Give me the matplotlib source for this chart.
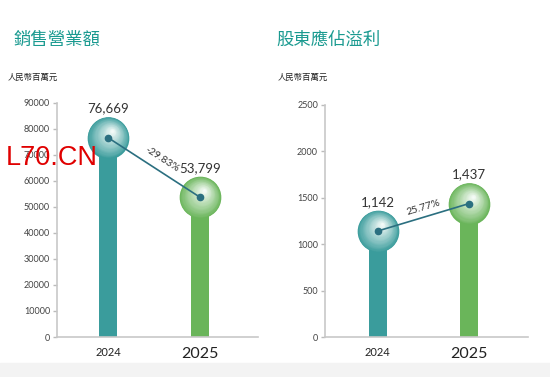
import numpy as np
import matplotlib.pyplot as plt
import matplotlib.transforms as mtransforms
from matplotlib.colors import to_rgb

plt.rcParams['font.family'] = ['Lato', 'Noto Sans CJK TC', 'DejaVu Sans']

# Data
years = ['2024', '2025']
sales = [76669, 53799]
profit = [1142, 1437]
sales_change = '-29.83%'
profit_change = '25.77%'
titles = ['銷售營業額', '股東應佔溢利']
unit = '人民幣百萬元'

teal = '#3a9c9c'
green = '#6ab55a'
line_col = '#2b6f80'


def ball(ax, x, y, color, radius=14.5, n=40):
    # fake a shaded sphere with stacked circles moving toward the highlight
    base = np.array(to_rgb(color))
    hl = np.array([0.97, 0.99, 0.98])
    offx, offy = 3.0, 5.0
    for k in range(n):
        t = k / n
        c = base * (1 - t ** 0.9) + hl * t ** 0.9
        tr = mtransforms.offset_copy(ax.transData, fig=ax.figure,
                                     x=offx * t, y=offy * t, units='points')
        r = radius * (1 - t) + 0.5
        ax.scatter([x], [y], s=(2 * r) ** 2, color=c, transform=tr,
                   zorder=4, linewidths=0, clip_on=False)


def panel(ax, values, ymax, step, change, xlim):
    x = np.arange(len(values))
    ax.bar(x, values, width=0.2, color=[teal, green], zorder=2)
    for xi, v, c in zip(x, values, [teal, green]):
        ball(ax, xi, v, c)
        ax.annotate(f'{v:,}', (xi, v), xytext=(0, 21), textcoords='offset points',
                    ha='center', va='center', fontsize=9.5, color='#333333')
    ax.plot(x, values, color=line_col, lw=1.2, zorder=6, marker='o', ms=4.5,
            clip_on=False)
    ax.set_xlim(*xlim)
    ax.set_ylim(0, ymax)
    ax.set_yticks(np.arange(0, ymax + 1, step))
    ax.set_xticks(x)
    ax.set_xticklabels(years)
    labs = ax.get_xticklabels()
    labs[0].set_fontsize(8)
    labs[1].set_fontsize(11.5)
    ax.tick_params(axis='x', length=0, pad=7, colors='#222222')
    ax.tick_params(axis='y', length=3, width=1, colors='#bbbbbb', labelsize=6.5,
                   labelcolor='#444444', pad=2)
    for s in ['top', 'right']:
        ax.spines[s].set_visible(False)
    for s in ['left', 'bottom']:
        ax.spines[s].set_color('#c8c8c8')
        ax.spines[s].set_linewidth(1.2)
    ax.patch.set_alpha(0)

    # percentage label along the line
    fig.canvas.draw()
    p0 = ax.transData.transform((x[0], values[0]))
    p1 = ax.transData.transform((x[1], values[1]))
    ang = np.degrees(np.arctan2(p1[1] - p0[1], p1[0] - p0[0]))
    mid = ((x[0] + x[1]) / 2, (values[0] + values[1]) / 2)
    nx, ny = -np.sin(np.radians(ang)), np.cos(np.radians(ang))
    ax.annotate(change, mid, xytext=(nx * 7 + 2, ny * 7), textcoords='offset points',
                ha='center', va='center', rotation=ang, fontsize=7.5,
                color='#333333', zorder=7)


fig = plt.figure(figsize=(5.5, 3.77), dpi=100)
fig.patches.append(plt.Rectangle((0, 0), 1, 0.037, transform=fig.transFigure,
                                 color='#f3f3f3', zorder=0))

ax1 = fig.add_axes([0.1036, 0.1061, 0.3655, 0.6207])
ax2 = fig.add_axes([0.5909, 0.1061, 0.369, 0.6154])

panel(ax1, sales, 90000, 10000, sales_change, (-0.556, 1.634))
panel(ax2, profit, 2500, 500, profit_change, (-0.58, 1.65))

fig.text(0.024, 0.894, titles[0], fontsize=12.5, color='#1a9a90',
         family=['Noto Sans CJK TC'], va='center')
fig.text(0.502, 0.894, titles[1], fontsize=12.5, color='#1a9a90',
         family=['Noto Sans CJK TC'], va='center')
fig.text(0.014, 0.795, unit, fontsize=6, color='#222222',
         family=['Noto Sans CJK TC'], va='center')
fig.text(0.505, 0.795, unit, fontsize=6, color='#222222',
         family=['Noto Sans CJK TC'], va='center')

# watermark
fig.text(0.01, 0.58, 'L70.CN', fontsize=19.5, color='#e00000',
         family=['Liberation Sans'], va='center', zorder=10)

fig.savefig('out.png', dpi=100)
